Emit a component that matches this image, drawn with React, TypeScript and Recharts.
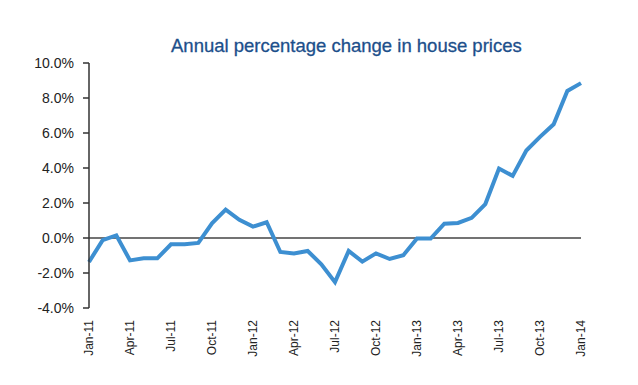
import React from 'react';
import { CartesianGrid, Line, LineChart, ReferenceLine, XAxis, YAxis } from 'recharts';

const months = [
  'Jan-11', 'Feb-11', 'Mar-11', 'Apr-11', 'May-11', 'Jun-11', 'Jul-11', 'Aug-11', 'Sep-11', 'Oct-11', 'Nov-11', 'Dec-11',
  'Jan-12', 'Feb-12', 'Mar-12', 'Apr-12', 'May-12', 'Jun-12', 'Jul-12', 'Aug-12', 'Sep-12', 'Oct-12', 'Nov-12', 'Dec-12',
  'Jan-13', 'Feb-13', 'Mar-13', 'Apr-13', 'May-13', 'Jun-13', 'Jul-13', 'Aug-13', 'Sep-13', 'Oct-13', 'Nov-13', 'Dec-13',
  'Jan-14',
];

const change = [
  -1.37, -0.12, 0.15, -1.28, -1.16, -1.16, -0.36, -0.36, -0.28, 0.84, 1.62, 1.04,
  0.65, 0.9, -0.8, -0.88, -0.74, -1.5, -2.52, -0.74, -1.35, -0.88, -1.2, -0.98,
  -0.03, -0.03, 0.82, 0.86, 1.15, 1.94, 3.97, 3.55, 5.0, 5.78, 6.5, 8.4,
  8.85,
];

const yTicks = [-4, -2, 0, 2, 4, 6, 8, 10];

const data = months.map((month, i) => ({ month, change: change[i] }));

const FONT = '"Liberation Sans", Arial, sans-serif';

function MonthTick(props: any) {
  const { x, y, payload } = props;
  const ty = y + 12;
  return (
    <text
      x={x}
      y={ty}
      dy="0.35em"
      textAnchor="end"
      transform={`rotate(-90, ${x}, ${ty})`}
      fontSize={12}
      fontFamily={FONT}
      fill="#222"
    >
      {payload.value}
    </text>
  );
}

export default function App() {
  return (
    <div style={{ position: 'absolute', left: 0, top: 0, width: 638, height: 385, background: '#fff' }}>
      <div
        style={{
          position: 'absolute',
          left: 171,
          top: 36,
          fontFamily: FONT,
          fontSize: 18.5,
          lineHeight: '20px',
          color: '#1c4f8b',
          whiteSpace: 'nowrap',
          WebkitTextStroke: '0.3px #1c4f8b',
        }}
      >
        Annual percentage change in house prices
      </div>
      <LineChart width={638} height={385} data={data} margin={{ top: 63, right: 57, bottom: 0, left: 0 }}>
        <CartesianGrid horizontal={false} vertical={false} />
        <XAxis
          dataKey="month"
          scale="point"
          padding={{ left: 0, right: 0 }}
          interval={2}
          axisLine={false}
          tickLine={false}
          tickSize={0}
          tickMargin={0}
          height={77}
          tick={<MonthTick />}
        />
        <YAxis
          domain={[-4, 10]}
          ticks={yTicks}
          width={89}
          tickFormatter={(v: number) => `${v.toFixed(1)}%`}
          axisLine={{ stroke: '#333', strokeWidth: 1.5 }}
          tickLine={{ stroke: '#333', strokeWidth: 1.5 }}
          tickSize={6}
          tickMargin={9}
          tick={{ fontSize: 14, fontFamily: FONT, fill: '#222' }}
        />
        <ReferenceLine y={0} stroke="#444" strokeWidth={1.5} />
        <Line
          type="linear"
          dataKey="change"
          stroke="#3d8fd1"
          strokeWidth={4}
          dot={false}
          isAnimationActive={false}
        />
      </LineChart>
    </div>
  );
}
